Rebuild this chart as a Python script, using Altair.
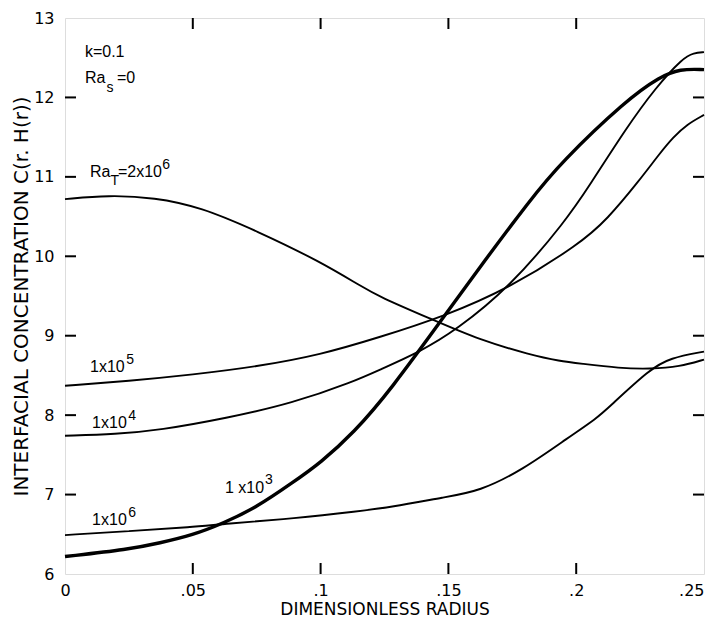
import altair as alt
import pandas as pd

# ---------------- data ----------------
series = ["1e3", "1e4", "1e5", "1e6", "2e6"]

r_1e3 = [0, .025, .037, .05, .062, .075, .089, .1, .113, .127, .1494, .162, .182, .1937, .2197, .2328, .2406, .25]
c_1e3 = [6.22, 6.31, 6.39, 6.49, 6.64, 6.84, 7.15, 7.40, 7.78, 8.30, 9.29, 9.85, 10.71, 11.17, 11.97, 12.26, 12.36, 12.35]

r_1e4 = [0, .02, .037, .063, .089, .1127, .123, .139, .153, .174, .196, .205, .2197, .231, .2418, .246, .25]
c_1e4 = [7.74, 7.76, 7.81, 7.96, 8.15, 8.42, 8.57, 8.80, 9.07, 9.61, 10.45, 10.88, 11.62, 12.12, 12.50, 12.56, 12.57]

r_1e5 = [0, .025, .05, .075, .1, .123, .148, .174, .2015, .212, .2246, .2328, .238, .2433, .25]
c_1e5 = [8.37, 8.43, 8.51, 8.61, 8.76, 8.98, 9.24, 9.60, 10.16, 10.46, 10.95, 11.30, 11.50, 11.66, 11.78]

r_1e6 = [0, .025, .05, .062, .09, .115, .127, .149, .162, .179, .197, .208, .2128, .2289, .2367, .25]
c_1e6 = [6.49, 6.54, 6.59, 6.63, 6.70, 6.79, 6.84, 6.97, 7.04, 7.31, 7.72, 7.96, 8.10, 8.58, 8.72, 8.80]

r_2e6 = [0, .017, .035, .053, .075, .1, .1154, .123, .144, .162, .182, .1937, .2015, .217, .2289, .2406, .25]
c_2e6 = [10.72, 10.77, 10.74, 10.62, 10.32, 9.93, 9.63, 9.49, 9.20, 8.95, 8.76, 8.68, 8.65, 8.59, 8.58, 8.61, 8.70]

x_ticks = [0, 0.05, 0.1, 0.15, 0.2, 0.25]
y_ticks = [6, 7, 8, 9, 10, 11, 12, 13]
x_inner = [0.05, 0.1, 0.15, 0.2]
y_inner = [7, 8, 9, 10, 11, 12]

# annotation pieces (text, r, c)
main_text = ["k=0.1", "Ra", "=0", "Ra", "=2x10", "1x10", "1x10", "1x10", "1 x10"]
main_r = [.0078, .0078, .0203, .0098, .0207, .0098, .0106, .0106, .0626]
main_c = [12.51, 12.18, 12.18, 11.00, 11.00, 8.54, 7.84, 6.62, 7.02]

script_text = ["s", "T", "6", "5", "4", "6", "3"]
script_r = [.0162, .0178, .0380, .0240, .0247, .0247, .0782]
script_c = [12.07, 10.90, 11.10, 8.64, 7.94, 6.72, 7.13]

# ---------------- layout constants ----------------
W, H = 639, 556
X0, X1 = 0.0, 0.25
Y0, Y1 = 6.0, 13.0
TICK = 11  # tick length in pixels
tly = TICK * (Y1 - Y0) / H
tlx = TICK * (X1 - X0) / W

# ---------------- build tables ----------------
thick_rows, thin_rows = [], []
for name, rs, cs in zip(series, [r_1e3, r_1e4, r_1e5, r_1e6, r_2e6],
                        [c_1e3, c_1e4, c_1e5, c_1e6, c_2e6]):
    target = thick_rows if name == "1e3" else thin_rows
    for i, (r, c) in enumerate(zip(rs, cs)):
        target.append({"series": name, "r": r, "c": c, "order": i})
df_thick = pd.DataFrame(thick_rows)
df_thin = pd.DataFrame(thin_rows)
df_main = pd.DataFrame({"t": main_text, "r": main_r, "c": main_c})
df_script = pd.DataFrame({"t": script_text, "r": script_r, "c": script_c})

tk = []
k = 0
for v in x_inner:
    tk += [{"id": k, "r": v, "c": Y0}, {"id": k, "r": v, "c": Y0 + tly}]
    k += 1
    tk += [{"id": k, "r": v, "c": Y1}, {"id": k, "r": v, "c": Y1 - tly}]
    k += 1
for v in y_inner:
    tk += [{"id": k, "r": X0, "c": v}, {"id": k, "r": X0 + tlx, "c": v}]
    k += 1
    tk += [{"id": k, "r": X1, "c": v}, {"id": k, "r": X1 - tlx, "c": v}]
    k += 1
df_tk = pd.DataFrame(tk)

FONT = "DejaVu Sans"
AFONT = "Liberation Sans"
xscale = alt.Scale(domain=[X0, X1], nice=False, zero=False)
yscale = alt.Scale(domain=[Y0, Y1], nice=False, zero=False)

x_main = alt.X("r:Q", scale=xscale, axis=alt.Axis(
    title="DIMENSIONLESS RADIUS", values=x_ticks,
    labelExpr="datum.value == 0 ? '0' : replace(format(datum.value, '~g'), '0.', '.')",
    labelAlign={"expr": "datum.value >= 0.249 ? 'right' : 'center'"},
    ticks=False, tickSize=0, domain=False, grid=False, labelPadding=8,
    labelFontSize=16, titleFontSize=17, titlePadding=3,
    labelFont=FONT, titleFont=FONT, labelColor="black", titleColor="black",
    titleFontWeight="normal", orient="bottom"))
y_main = alt.Y("c:Q", scale=yscale, axis=alt.Axis(
    title="INTERFACIAL CONCENTRATION C(r. H(r))", values=y_ticks, format="d",
    ticks=False, tickSize=0, domain=False, grid=False, labelPadding=11,
    labelFontSize=16, titleFontSize=20, titlePadding=2,
    labelFont=FONT, titleFont=FONT, labelColor="black", titleColor="black",
    titleFontWeight="normal", orient="left"))

xn = alt.X("r:Q", scale=xscale, axis=None)
yn = alt.Y("c:Q", scale=yscale, axis=None)

thin = alt.Chart(df_thin).mark_line(interpolate="basis", color="black", strokeWidth=1.9).encode(
    x=x_main, y=y_main, detail="series:N", order="order:Q")
thick = alt.Chart(df_thick).mark_line(interpolate="basis", color="black", strokeWidth=3.4).encode(
    x=xn, y=yn, detail="series:N", order="order:Q")
ticks = alt.Chart(df_tk).mark_line(color="black", strokeWidth=2).encode(
    x=xn, y=yn, detail="id:N")

txt_main = alt.Chart(df_main).mark_text(
    align="left", baseline="alphabetic", font=AFONT, fontSize=16, color="black"
).encode(x=xn, y=yn, text="t:N")
txt_script = alt.Chart(df_script).mark_text(
    align="left", baseline="alphabetic", font=AFONT, fontSize=14, color="black"
).encode(x=xn, y=yn, text="t:N")

chart = alt.layer(thin, thick, txt_main, txt_script, ticks).resolve_axis(
    x="independent", y="independent"
).properties(
    width=W, height=H,
    autosize=alt.AutoSizeParams(type="none"),
    padding={"left": 57, "top": 10, "right": 4, "bottom": 47},
).configure_view(stroke="black", strokeWidth=2).configure(background="white")

chart.save("out.html", embed_options={"renderer": "svg", "actions": False})
